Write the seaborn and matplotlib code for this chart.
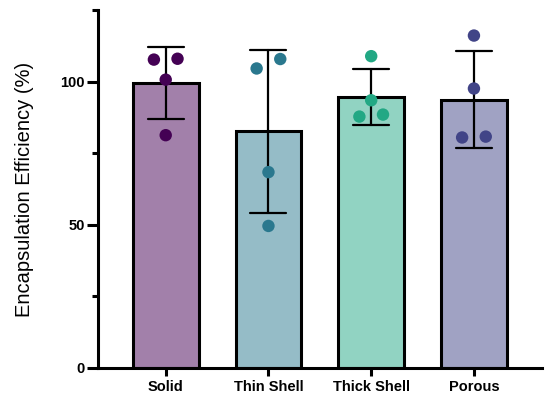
import numpy as np
import pandas as pd
import matplotlib
matplotlib.use('Agg')
import matplotlib.pyplot as plt
import seaborn as sns
from matplotlib.ticker import MultipleLocator
from matplotlib.colors import to_rgb

# Data (4 replicates per group)
groups = ['Solid', 'Thin Shell', 'Thick Shell', 'Porous']
solid = [107.7, 108.0, 100.7, 81.3]
thin_shell = [104.6, 107.9, 68.4, 49.6]
thick_shell = [108.9, 93.5, 87.8, 88.5]
porous = [116.1, 97.6, 80.5, 80.8]
dot_colors = ['#440154', '#2A788E', '#22A884', '#414487']

values = [solid, thin_shell, thick_shell, porous]
df = pd.DataFrame({
    'group': np.repeat(groups, [len(v) for v in values]),
    'value': np.concatenate(values),
})

# bars are the dot colours at half strength on white
bar_colors = [tuple(0.5 * np.array(to_rgb(c)) + 0.5) for c in dot_colors]


def spread(vals, gap=4.0, step=0.23):
    # put points that would overlap side by side, centred on the bar
    vals = np.asarray(vals)
    order = np.argsort(vals)
    offs = np.zeros(len(vals))
    clusters = [[order[0]]]
    for i in order[1:]:
        if vals[i] - vals[clusters[-1][-1]] < gap:
            clusters[-1].append(i)
        else:
            clusters.append([i])
    for c in clusters:
        for k, i in enumerate(c):
            offs[i] = (k - (len(c) - 1) / 2) * step
    return offs


sns.set_style('ticks', {'axes.edgecolor': 'black', 'xtick.color': 'black',
                        'ytick.color': 'black', 'text.color': 'black',
                        'axes.labelcolor': 'black'})
plt.rcParams['font.family'] = ['Liberation Sans', 'DejaVu Sans']

fig = plt.figure(figsize=(5.5, 4.03), dpi=100)
ax = fig.add_axes([0.178, 0.087, 0.807, 0.888])

sns.barplot(data=df, x='group', y='value', hue='group', palette=bar_colors,
            order=groups, errorbar='sd', capsize=0.35, width=0.64,
            saturation=1, edgecolor='black', linewidth=2.2, legend=False,
            err_kws={'color': 'black', 'linewidth': 1.6}, ax=ax)

df['pos'] = df['group'].map({g: i for i, g in enumerate(groups)})
df['pos'] = df['pos'] + np.concatenate([spread(v) for v in values])
sns.scatterplot(data=df, x='pos', y='value', hue='group', palette=dot_colors,
                s=80, edgecolor='none', legend=False, zorder=4, ax=ax)

ax.set_xlim(-0.66, 3.66)
ax.set_ylim(0, 125)
ax.yaxis.set_major_locator(MultipleLocator(50))
ax.yaxis.set_minor_locator(MultipleLocator(25))
ax.set_xticks(range(len(groups)))
ax.set_xticklabels(groups, fontweight='bold', fontsize=10.5, color='black')
for lab in ax.get_yticklabels():
    lab.set_fontweight('bold')
    lab.set_fontsize(10.5)
    lab.set_color('black')

ax.tick_params(axis='y', which='major', length=8, width=2.2, pad=1.5)
ax.tick_params(axis='y', which='minor', length=4.5, width=2.2)
ax.tick_params(axis='x', length=6, width=2.2, pad=3)

sns.despine(ax=ax)
for side in ['left', 'bottom']:
    ax.spines[side].set_linewidth(2.2)

ax.set_xlabel('')
ax.set_ylabel('Encapsulation Efficiency (%)', fontsize=14.5, labelpad=19,
              color='black')

fig.savefig('out.png', dpi=100)
